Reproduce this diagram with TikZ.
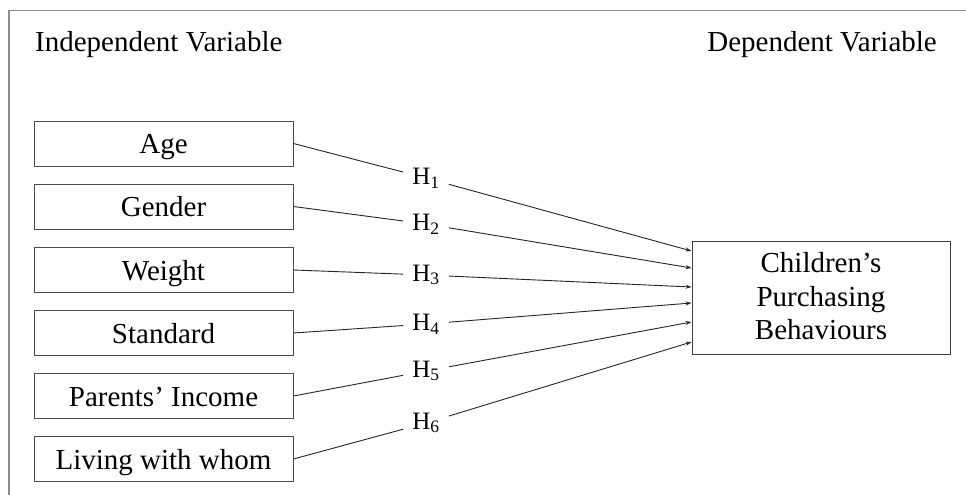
\documentclass[tikz,border=0pt]{standalone}
\usepackage{fontspec}
\setmainfont{Liberation Serif}
\usetikzlibrary{arrows.meta}
\begin{document}
\begin{tikzpicture}[x=1pt,y=-1pt,
  frame/.style={draw=black!45,line width=1.2pt},
  varbox/.style={draw=black!70,line width=0.9pt,minimum width=259pt,minimum height=45pt,inner sep=0pt,text height=20pt,text depth=0pt,font=\fontsize{29}{31}\selectfont},
  depbox/.style={draw=black!75,line width=0.9pt,minimum width=258pt,minimum height=113pt,inner sep=0pt},
  deptext/.style={inner sep=0pt,align=center,font=\fontsize{29}{33.5}\selectfont},
  hyp/.style={inner xsep=9pt,inner ysep=3pt,font=\fontsize{25}{26}\selectfont},
  head/.style={inner sep=0pt,font=\fontsize{29}{31}\selectfont},
  conn/.style={draw=black!85,line width=0.9pt},
  arr/.style={conn,-{Stealth[length=6pt,width=4pt]}}]
\useasboundingbox (0,0) rectangle (966,495);
\draw[frame] (9,500) -- (9,10.5) -- (970,10.5);
\node[head,anchor=base west] (indep) at (35,52) {Independent Variable};
\node[head,anchor=base east] (dep) at (937,52) {Dependent Variable};
\node[varbox] (age) at (163.5,143.5) {Age};
\node[varbox] (gender) at (163.5,206.5) {Gender};
\node[varbox] (weight) at (163.5,270) {Weight};
\node[varbox] (standard) at (163.5,333) {Standard};
\node[varbox] (income) at (163.5,396) {Parents’ Income};
\node[varbox] (living) at (163.5,459) {Living with whom};
\node[depbox] (cpb) at (821,297.5) {};
\node[deptext] (cpbtext) at (821,296.5) {Children’s\\Purchasing\\Behaviours};
\node[hyp] (h1) at (426,178) {H\textsubscript{1}};
\node[hyp] (h2) at (426,224) {H\textsubscript{2}};
\node[hyp] (h3) at (426,275) {H\textsubscript{3}};
\node[hyp] (h4) at (426,324) {H\textsubscript{4}};
\node[hyp] (h5) at (426,371) {H\textsubscript{5}};
\node[hyp] (h6) at (426,423) {H\textsubscript{6}};
\coordinate (t1) at (cpb.west |- 0,251);
\coordinate (t2) at (cpb.west |- 0,268);
\coordinate (t3) at (cpb.west |- 0,287);
\coordinate (t4) at (cpb.west |- 0,303);
\coordinate (t5) at (cpb.west |- 0,322);
\coordinate (t6) at (cpb.west |- 0,342);
\foreach \b/\h/\t in {age/h1/t1,gender/h2/t2,weight/h3/t3,standard/h4/t4,income/h5/t5,living/h6/t6}{
  \draw[conn] (\b.east) -- (\h);
  \draw[arr] (\h) -- (\t);
}
\end{tikzpicture}
\end{document}
